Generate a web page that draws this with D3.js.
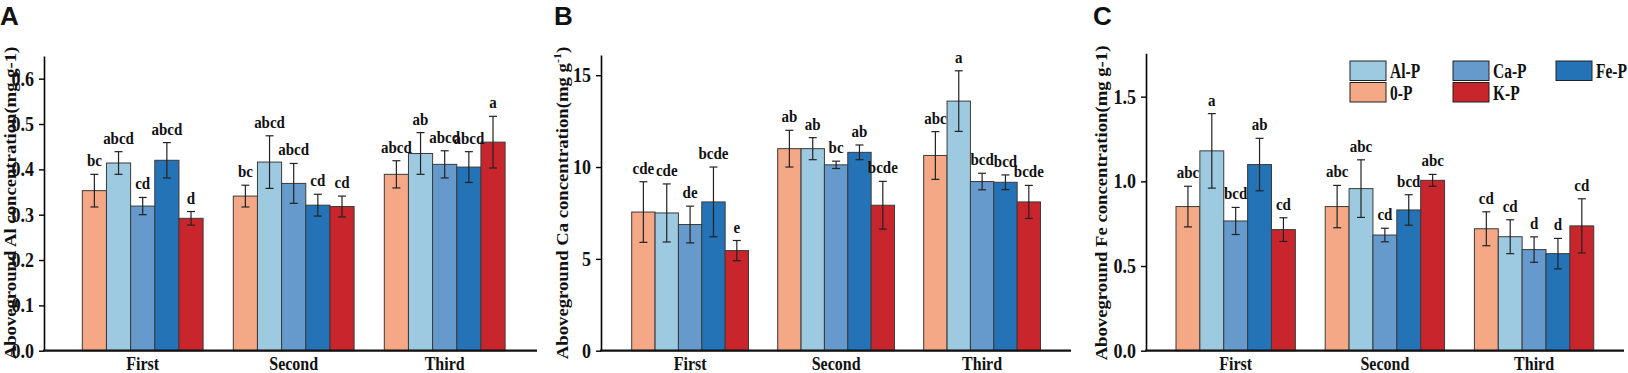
<!DOCTYPE html>
<html>
<head>
<meta charset="utf-8">
<script src="https://cdn.jsdelivr.net/npm/d3@7"></script>
<style>
body { margin: 0; background: #fff; }
svg text { font-family: "Liberation Serif", "Times New Roman", serif; font-weight: bold; fill: #111; }
.letter { font-family: "Liberation Sans", Arial, sans-serif; }
</style>
</head>
<body>
<script>
var W = 1628, H = 373;

var cuts = ["First", "Second", "Third"];
var treatments = ["0-P", "Al-P", "Ca-P", "Fe-P", "K-P"];
var colors = ["#F4A886", "#9DCAE1", "#6699CC", "#2373B6", "#C9252D"];
var legendOrder = ["Al-P", "Ca-P", "Fe-P", "0-P", "K-P"];

// one row per cut, one value per treatment
var alMean = [[0.353, 0.414, 0.319, 0.420, 0.292], [0.341, 0.416, 0.369, 0.321, 0.318], [0.389, 0.435, 0.411, 0.405, 0.460]];
var alErr = [[0.036, 0.025, 0.019, 0.039, 0.015], [0.024, 0.058, 0.044, 0.024, 0.023], [0.030, 0.046, 0.030, 0.034, 0.057]];
var alSig = [["bc", "abcd", "cd", "abcd", "d"], ["bc", "abcd", "abcd", "cd", "cd"], ["abcd", "ab", "abcd", "abcd", "a"]];

var caMean = [[7.55, 7.5, 6.87, 8.1, 5.45], [11.0, 11.0, 10.12, 10.8, 7.92], [10.63, 13.59, 9.21, 9.17, 8.1]];
var caErr = [[1.65, 1.58, 1.0, 1.9, 0.55], [1.0, 0.6, 0.2, 0.4, 1.3], [1.3, 1.65, 0.45, 0.4, 0.9]];
var caSig = [["cde", "cde", "de", "bcde", "e"], ["ab", "ab", "bc", "ab", "bcde"], ["abc", "a", "bcd", "bcd", "bcde"]];

var feMean = [[0.851, 1.18, 0.766, 1.099, 0.715], [0.851, 0.957, 0.683, 0.831, 1.006], [0.72, 0.673, 0.597, 0.573, 0.737]];
var feErr = [[0.12, 0.22, 0.08, 0.155, 0.07], [0.125, 0.17, 0.04, 0.09, 0.035], [0.1, 0.1, 0.075, 0.09, 0.16]];
var feSig = [["abc", "a", "bcd", "ab", "cd"], ["abc", "abc", "cd", "bcd", "abc"], ["cd", "cd", "d", "d", "cd"]];

var alTicks = [0, 0.1, 0.2, 0.3, 0.4, 0.5, 0.6];
var caTicks = [0, 5, 10, 15];
var feTicks = [0, 0.5, 1.0, 1.5];

var base = 350.7;

var svg = d3.select("body").append("svg")
  .attr("width", W)
  .attr("height", H);

function panel(o) {
  var g = svg.append("g");

  var y = d3.scaleLinear().domain([0, o.ymax]).range([base, o.top]);
  var x0 = o.g0 - o.step * 0.1;
  var x = d3.scaleBand().domain(cuts)
    .range([x0, x0 + 3 * o.step])
    .paddingInner(0.2).paddingOuter(0.1);
  var xs = d3.scaleBand().domain(treatments).range([0, x.bandwidth()]);

  var rows = [];
  cuts.forEach(function(c, i) {
    treatments.forEach(function(t, j) {
      rows.push({cut: c, t: t, j: j, v: o.mean[i][j], e: o.err[i][j], s: o.sig[i][j]});
    });
  });
  var cx = function(d) { return x(d.cut) + xs(d.t) + xs.bandwidth() / 2; };

  g.selectAll("rect.bar").data(rows).enter().append("rect")
    .attr("class", "bar")
    .attr("x", function(d) { return x(d.cut) + xs(d.t); })
    .attr("y", function(d) { return y(d.v); })
    .attr("width", xs.bandwidth())
    .attr("height", function(d) { return y(0) - y(d.v); })
    .attr("fill", function(d) { return colors[d.j]; })
    .attr("stroke", "#3a3a3a")
    .attr("stroke-width", 1);

  var eb = g.selectAll("g.err").data(rows).enter().append("g")
    .attr("class", "err")
    .attr("transform", function(d) { return "translate(" + cx(d) + ",0)"; })
    .attr("stroke", "#222")
    .attr("stroke-width", 1.2);
  eb.append("line")
    .attr("y1", function(d) { return y(d.v - d.e); })
    .attr("y2", function(d) { return y(d.v + d.e); });
  eb.append("line").attr("x1", -4).attr("x2", 4)
    .attr("y1", function(d) { return y(d.v + d.e); })
    .attr("y2", function(d) { return y(d.v + d.e); });
  eb.append("line").attr("x1", -4).attr("x2", 4)
    .attr("y1", function(d) { return y(d.v - d.e); })
    .attr("y2", function(d) { return y(d.v - d.e); });

  g.selectAll("text.sig").data(rows).enter().append("text")
    .attr("class", "sig")
    .attr("transform", function(d) { return "translate(" + cx(d) + "," + (y(d.v + d.e) - 8) + ") scale(1,1.12)"; })
    .attr("text-anchor", "middle")
    .style("font-size", "15px")
    .text(function(d) { return d.s; });

  // y axis
  var ya = g.append("g")
    .attr("transform", "translate(" + o.axisX + ",0)")
    .call(d3.axisLeft(y).tickValues(o.ticks).tickFormat(d3.format(o.fmt)).tickSize(5).tickSizeOuter(0).tickPadding(5));
  ya.select(".domain").attr("stroke-width", 1.6);
  ya.selectAll(".tick line").attr("stroke-width", 1.4);
  ya.selectAll("text")
    .attr("transform", "scale(1,1.15)")
    .style("font-size", "18px").style("font-family", null).attr("fill", "#111");

  // x axis
  g.append("line")
    .attr("x1", o.axisX - 1).attr("x2", o.xEnd)
    .attr("y1", base).attr("y2", base)
    .attr("stroke", "#111").attr("stroke-width", 2.2);
  var xa = g.append("g")
    .attr("transform", "translate(0," + base + ")")
    .call(d3.axisBottom(x).tickSize(0));
  xa.select(".domain").remove();
  xa.selectAll("text")
    .attr("y", 0).attr("dy", null)
    .attr("transform", "translate(0,19.5) scale(1,1.15)")
    .style("font-size", "16px").style("font-family", null).attr("fill", "#111");

  // y title
  var t = g.append("text")
    .attr("transform", "translate(" + o.titleX + ",203) scale(1,1.1) rotate(-90)")
    .attr("text-anchor", "middle")
    .style("font-size", "17px");
  t.append("tspan").text(o.title);
  if (o.sup) {
    t.append("tspan").attr("dy", -7).style("font-size", "11px").text(o.sup);
    t.append("tspan").attr("dy", 7).text(")");
  }

  svg.append("text").attr("class", "letter")
    .attr("x", o.letterX).attr("y", 25)
    .style("font-size", "26px")
    .text(o.letter);
}

panel({letter: "A", letterX: 0, axisX: 44, xEnd: 537, g0: 82.3, step: 151, top: 56, ymax: 0.65,
  ticks: alTicks, fmt: ".1f", mean: alMean, err: alErr, sig: alSig, titleX: 16,
  title: "Aboveground Al concentration(mg g-1)"});

panel({letter: "B", letterX: 554, axisX: 601, xEnd: 1071, g0: 631.7, step: 146, top: 55, ymax: 16.1,
  ticks: caTicks, fmt: "d", mean: caMean, err: caErr, sig: caSig, titleX: 568,
  title: "Aboveground Ca concentration(mg g", sup: "-1"});

panel({letter: "C", letterX: 1093, axisX: 1146, xEnd: 1624, g0: 1176, step: 149.2, top: 53.3, ymax: 1.756,
  ticks: feTicks, fmt: ".1f", mean: feMean, err: feErr, sig: feSig, titleX: 1107,
  title: "Aboveground Fe concentration(mg g-1)"});

// legend, 3 columns
var leg = svg.append("g").selectAll("g").data(legendOrder).enter().append("g")
  .attr("transform", function(d, i) {
    return "translate(" + (1350 + (i % 3) * 103) + "," + (61 + Math.floor(i / 3) * 21.5) + ")";
  });
leg.append("rect")
  .attr("width", 36).attr("height", 19.5)
  .attr("fill", function(d) { return colors[treatments.indexOf(d)]; })
  .attr("stroke", "#222").attr("stroke-width", 1);
leg.append("text")
  .attr("transform", "translate(40,17) scale(1,1.4)")
  .style("font-size", "15.5px")
  .text(function(d) { return d; });
</script>
</body>
</html>
